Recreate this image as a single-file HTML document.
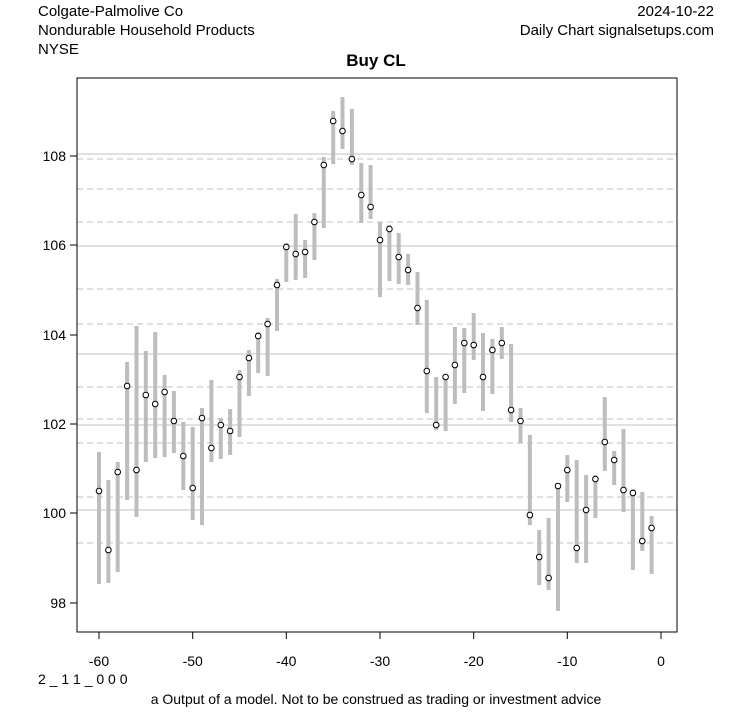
<!DOCTYPE html>
<html><head><style>body{margin:0;background:#fff}svg text{font-family:"Liberation Sans",Arial,sans-serif}</style></head>
<body>
<svg width="753" height="708" xmlns="http://www.w3.org/2000/svg">
<rect width="753" height="708" fill="#fff"/>
<g font-size="15" fill="#000">
<text x="38" y="16">Colgate-Palmolive Co</text>
<text x="38" y="35">Nondurable Household Products</text>
<text x="38" y="54">NYSE</text>
<text x="714" y="16" text-anchor="end">2024-10-22</text>
<text x="714" y="35" text-anchor="end">Daily Chart signalsetups.com</text>
<text x="376" y="66" text-anchor="middle" font-weight="bold" font-size="17">Buy CL</text>
</g>
<g stroke="#c0c0c0" stroke-width="1">
<line x1="77" x2="677" y1="154" y2="154"/><line x1="77" x2="677" y1="246" y2="246"/><line x1="77" x2="677" y1="354" y2="354"/><line x1="77" x2="677" y1="425" y2="425"/><line x1="77" x2="677" y1="510" y2="510"/>
<g stroke-dasharray="6,4">
<line x1="77" x2="677" y1="159" y2="159"/><line x1="77" x2="677" y1="189" y2="189"/><line x1="77" x2="677" y1="222" y2="222"/><line x1="77" x2="677" y1="289" y2="289"/><line x1="77" x2="677" y1="324" y2="324"/><line x1="77" x2="677" y1="387" y2="387"/><line x1="77" x2="677" y1="419" y2="419"/><line x1="77" x2="677" y1="443" y2="443"/><line x1="77" x2="677" y1="497" y2="497"/><line x1="77" x2="677" y1="543" y2="543"/>
</g></g>
<g stroke="#bdbdbd" stroke-width="4">
<line x1="99.0" x2="99.0" y1="452" y2="584"/>
<line x1="108.4" x2="108.4" y1="480" y2="583"/>
<line x1="117.7" x2="117.7" y1="462" y2="572"/>
<line x1="127.1" x2="127.1" y1="362" y2="500"/>
<line x1="136.5" x2="136.5" y1="326" y2="517"/>
<line x1="145.8" x2="145.8" y1="351" y2="462"/>
<line x1="155.2" x2="155.2" y1="332" y2="458"/>
<line x1="164.6" x2="164.6" y1="375" y2="457"/>
<line x1="173.9" x2="173.9" y1="391" y2="453"/>
<line x1="183.3" x2="183.3" y1="422" y2="490"/>
<line x1="192.7" x2="192.7" y1="427" y2="520"/>
<line x1="202.0" x2="202.0" y1="408" y2="525"/>
<line x1="211.4" x2="211.4" y1="380" y2="462"/>
<line x1="220.8" x2="220.8" y1="418" y2="459"/>
<line x1="230.1" x2="230.1" y1="409" y2="455"/>
<line x1="239.5" x2="239.5" y1="370" y2="437"/>
<line x1="248.9" x2="248.9" y1="350" y2="396"/>
<line x1="258.2" x2="258.2" y1="332" y2="373"/>
<line x1="267.6" x2="267.6" y1="318" y2="376"/>
<line x1="277.0" x2="277.0" y1="279" y2="331"/>
<line x1="286.3" x2="286.3" y1="243" y2="282"/>
<line x1="295.7" x2="295.7" y1="214" y2="280"/>
<line x1="305.1" x2="305.1" y1="240" y2="278"/>
<line x1="314.4" x2="314.4" y1="213" y2="260"/>
<line x1="323.8" x2="323.8" y1="157" y2="228"/>
<line x1="333.2" x2="333.2" y1="111" y2="164"/>
<line x1="342.5" x2="342.5" y1="97" y2="149"/>
<line x1="351.9" x2="351.9" y1="109" y2="165"/>
<line x1="361.3" x2="361.3" y1="163" y2="223"/>
<line x1="370.6" x2="370.6" y1="165" y2="219"/>
<line x1="380.0" x2="380.0" y1="222" y2="297"/>
<line x1="389.4" x2="389.4" y1="225" y2="281"/>
<line x1="398.7" x2="398.7" y1="233" y2="284"/>
<line x1="408.1" x2="408.1" y1="254" y2="285"/>
<line x1="417.5" x2="417.5" y1="272" y2="325"/>
<line x1="426.8" x2="426.8" y1="300" y2="413"/>
<line x1="436.2" x2="436.2" y1="377" y2="430"/>
<line x1="445.6" x2="445.6" y1="377" y2="431"/>
<line x1="454.9" x2="454.9" y1="327" y2="404"/>
<line x1="464.3" x2="464.3" y1="328" y2="393"/>
<line x1="473.7" x2="473.7" y1="313" y2="360"/>
<line x1="483.0" x2="483.0" y1="333" y2="411"/>
<line x1="492.4" x2="492.4" y1="339" y2="394"/>
<line x1="501.8" x2="501.8" y1="327" y2="359"/>
<line x1="511.1" x2="511.1" y1="344" y2="422"/>
<line x1="520.5" x2="520.5" y1="408" y2="443"/>
<line x1="529.9" x2="529.9" y1="435" y2="525"/>
<line x1="539.2" x2="539.2" y1="530" y2="585"/>
<line x1="548.6" x2="548.6" y1="518" y2="590"/>
<line x1="558.0" x2="558.0" y1="483" y2="611"/>
<line x1="567.3" x2="567.3" y1="455" y2="502"/>
<line x1="576.7" x2="576.7" y1="460" y2="563"/>
<line x1="586.1" x2="586.1" y1="475" y2="563"/>
<line x1="595.4" x2="595.4" y1="475" y2="518"/>
<line x1="604.8" x2="604.8" y1="397" y2="471"/>
<line x1="614.2" x2="614.2" y1="451" y2="485"/>
<line x1="623.5" x2="623.5" y1="429" y2="512"/>
<line x1="632.9" x2="632.9" y1="489" y2="570"/>
<line x1="642.3" x2="642.3" y1="492" y2="551"/>
<line x1="651.6" x2="651.6" y1="516" y2="574"/>
</g>
<g stroke="#000" stroke-width="1" fill="#fff">
<circle cx="99.0" cy="491" r="2.8"/>
<circle cx="108.4" cy="550" r="2.8"/>
<circle cx="117.7" cy="472" r="2.8"/>
<circle cx="127.1" cy="386" r="2.8"/>
<circle cx="136.5" cy="470" r="2.8"/>
<circle cx="145.8" cy="395" r="2.8"/>
<circle cx="155.2" cy="404" r="2.8"/>
<circle cx="164.6" cy="392" r="2.8"/>
<circle cx="173.9" cy="421" r="2.8"/>
<circle cx="183.3" cy="456" r="2.8"/>
<circle cx="192.7" cy="488" r="2.8"/>
<circle cx="202.0" cy="418" r="2.8"/>
<circle cx="211.4" cy="448" r="2.8"/>
<circle cx="220.8" cy="425" r="2.8"/>
<circle cx="230.1" cy="431" r="2.8"/>
<circle cx="239.5" cy="377" r="2.8"/>
<circle cx="248.9" cy="358" r="2.8"/>
<circle cx="258.2" cy="336" r="2.8"/>
<circle cx="267.6" cy="324" r="2.8"/>
<circle cx="277.0" cy="285" r="2.8"/>
<circle cx="286.3" cy="247" r="2.8"/>
<circle cx="295.7" cy="254" r="2.8"/>
<circle cx="305.1" cy="252" r="2.8"/>
<circle cx="314.4" cy="222" r="2.8"/>
<circle cx="323.8" cy="165" r="2.8"/>
<circle cx="333.2" cy="121" r="2.8"/>
<circle cx="342.5" cy="131" r="2.8"/>
<circle cx="351.9" cy="159" r="2.8"/>
<circle cx="361.3" cy="195" r="2.8"/>
<circle cx="370.6" cy="207" r="2.8"/>
<circle cx="380.0" cy="240" r="2.8"/>
<circle cx="389.4" cy="229" r="2.8"/>
<circle cx="398.7" cy="257" r="2.8"/>
<circle cx="408.1" cy="270" r="2.8"/>
<circle cx="417.5" cy="308" r="2.8"/>
<circle cx="426.8" cy="371" r="2.8"/>
<circle cx="436.2" cy="425" r="2.8"/>
<circle cx="445.6" cy="377" r="2.8"/>
<circle cx="454.9" cy="365" r="2.8"/>
<circle cx="464.3" cy="343" r="2.8"/>
<circle cx="473.7" cy="345" r="2.8"/>
<circle cx="483.0" cy="377" r="2.8"/>
<circle cx="492.4" cy="350" r="2.8"/>
<circle cx="501.8" cy="343" r="2.8"/>
<circle cx="511.1" cy="410" r="2.8"/>
<circle cx="520.5" cy="421" r="2.8"/>
<circle cx="529.9" cy="515" r="2.8"/>
<circle cx="539.2" cy="557" r="2.8"/>
<circle cx="548.6" cy="578" r="2.8"/>
<circle cx="558.0" cy="486" r="2.8"/>
<circle cx="567.3" cy="470" r="2.8"/>
<circle cx="576.7" cy="548" r="2.8"/>
<circle cx="586.1" cy="510" r="2.8"/>
<circle cx="595.4" cy="479" r="2.8"/>
<circle cx="604.8" cy="442" r="2.8"/>
<circle cx="614.2" cy="460" r="2.8"/>
<circle cx="623.5" cy="490" r="2.8"/>
<circle cx="632.9" cy="493" r="2.8"/>
<circle cx="642.3" cy="541" r="2.8"/>
<circle cx="651.6" cy="528" r="2.8"/>
</g>
<rect x="77" y="78" width="600" height="554" fill="none" stroke="#000"/>
<g stroke="#000">
<line x1="99" x2="99" y1="632" y2="639"/><line x1="192.7" x2="192.7" y1="632" y2="639"/><line x1="286.3" x2="286.3" y1="632" y2="639"/><line x1="380" x2="380" y1="632" y2="639"/><line x1="473.7" x2="473.7" y1="632" y2="639"/><line x1="567.3" x2="567.3" y1="632" y2="639"/><line x1="661" x2="661" y1="632" y2="639"/>
<line x1="70" x2="77" y1="156" y2="156"/><line x1="70" x2="77" y1="245" y2="245"/><line x1="70" x2="77" y1="335" y2="335"/><line x1="70" x2="77" y1="424" y2="424"/><line x1="70" x2="77" y1="513" y2="513"/><line x1="70" x2="77" y1="603" y2="603"/>
</g>
<g font-size="14" text-anchor="middle">
<text x="99" y="666">-60</text><text x="192.7" y="666">-50</text><text x="286.3" y="666">-40</text><text x="380" y="666">-30</text><text x="473.7" y="666">-20</text><text x="567.3" y="666">-10</text><text x="661" y="666">0</text>
</g>
<g font-size="14" text-anchor="end">
<text x="66" y="161">108</text><text x="66" y="250">106</text><text x="66" y="340">104</text><text x="66" y="429">102</text><text x="66" y="518">100</text><text x="66" y="608">98</text>
</g>
<text x="38" y="684" font-size="14">2 _ 1 1 _ 0 0 0</text>
<text x="376" y="704" font-size="14" text-anchor="middle">a Output of a model. Not to be construed as trading or investment advice</text>
</svg>
</body></html>
